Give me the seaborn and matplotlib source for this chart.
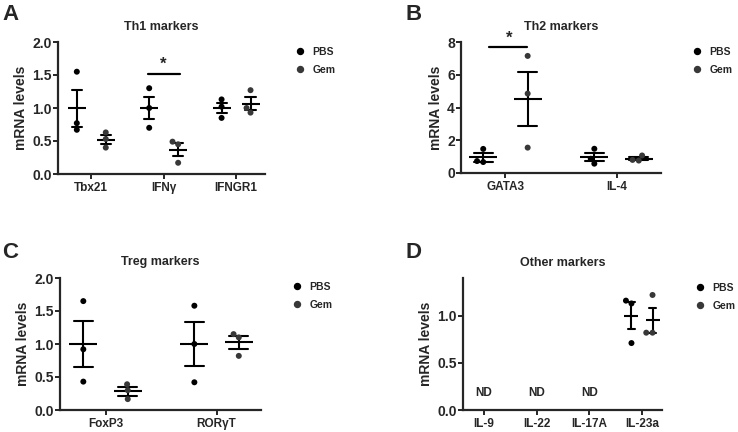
import numpy as np
import pandas as pd
import matplotlib
matplotlib.use("Agg")
import matplotlib.pyplot as plt
import seaborn as sns
from matplotlib.lines import Line2D

sns.set_style("ticks")
plt.rcParams["font.family"] = ["Liberation Sans", "DejaVu Sans"]
plt.rcParams["font.weight"] = "bold"
plt.rcParams["axes.labelweight"] = "bold"
plt.rcParams["axes.titleweight"] = "bold"

groups = ["PBS", "Gem"]
palette = {"PBS": "#000000", "Gem": "#383838"}

# Panel A: Th1 markers
a_genes = ["Tbx21", "IFNγ", "IFNGR1"]
a_pbs = [[1.55, 0.77, 0.67], [1.30, 1.00, 0.70], [1.13, 1.02, 0.85]]
a_gem = [[0.63, 0.53, 0.40], [0.49, 0.45, 0.17], [1.27, 1.00, 0.93]]

# Panel B: Th2 markers
b_genes = ["GATA3", "IL-4"]
b_pbs = [[1.47, 0.73, 0.67], [1.48, 0.87, 0.57]]
b_gem = [[7.15, 4.85, 1.55], [1.07, 0.80, 0.76]]

# Panel C: Treg markers
c_genes = ["FoxP3", "RORγT"]
c_pbs = [[1.65, 0.92, 0.43], [1.58, 1.00, 0.42]]
c_gem = [[0.39, 0.30, 0.165], [1.15, 1.10, 0.82]]

# Panel D: Other markers (only IL-23a detected)
d_genes = ["IL-9", "IL-22", "IL-17A", "IL-23a"]
d_measured = ["IL-23a"]
d_pbs = [[1.16, 1.13, 0.71]]
d_gem = [[1.22, 0.82, 0.82]]
d_nd = ["IL-9", "IL-22", "IL-17A"]


def to_long(genes, pbs, gem):
    rows = []
    for g, p, m in zip(genes, pbs, gem):
        rows += [(g, "PBS", v) for v in p]
        rows += [(g, "Gem", v) for v in m]
    return pd.DataFrame(rows, columns=["gene", "group", "value"])


fig = plt.figure(figsize=(7.38, 4.32), dpi=100)
W, H = 738, 432


def add_axes(l, r, t, b):
    return fig.add_axes([l / W, 1 - b / H, (r - l) / W, (b - t) / H])


def panel(ax, df, order, ylim, yticks, title, xlim, mean_ms, cap):
    sns.swarmplot(data=df, x="gene", y="value", hue="group", order=order,
                  hue_order=groups, palette=palette, dodge=True, size=4.3,
                  ax=ax, legend=False, zorder=3)
    sns.pointplot(data=df, x="gene", y="value", hue="group", order=order,
                  hue_order=groups, palette=["k", "k"], dodge=0.4,
                  errorbar="se", capsize=cap, marker="_", markersize=mean_ms,
                  markeredgewidth=1.5, linestyle="none",
                  err_kws={"linewidth": 1.5}, ax=ax, legend=False)
    ax.set_xlim(*xlim)
    ax.set_ylim(*ylim)
    ax.set_yticks(yticks)
    ax.set_xlabel("")
    ax.set_ylabel("mRNA levels", fontsize=10, labelpad=3)
    ax.set_title(title, fontsize=9, pad=9)
    for s in ["left", "bottom"]:
        ax.spines[s].set_linewidth(1.6)
    sns.despine(ax=ax)
    ax.tick_params(axis="y", labelsize=10, width=1.4, length=3.5, pad=1)
    ax.tick_params(axis="x", labelsize=8.5, width=1.4, length=3.5, pad=2)
    for lab in ax.get_xticklabels() + ax.get_yticklabels():
        lab.set_fontweight("bold")
    handles = [Line2D([], [], marker="o", ls="", color=palette[g], markersize=4.3)
               for g in groups]
    return handles


def add_legend(ax, handles, x, y):
    ax.legend(handles, groups, loc="upper left", bbox_to_anchor=(x / W, 1 - y / H),
              bbox_transform=fig.transFigure, frameon=False, fontsize=7.5,
              handlelength=0.8, handletextpad=0.8, labelspacing=0.75,
              borderpad=0, borderaxespad=0)


# A
axA = add_axes(58, 265, 42, 174)
dfA = to_long(a_genes, a_pbs, a_gem)
h = panel(axA, dfA, a_genes, (0, 2.0), [0, 0.5, 1.0, 1.5, 2.0], "Th1 markers",
          (-0.46, 2.4), 13, 0.14)
axA.set_yticklabels(["0.0", "0.5", "1.0", "1.5", "2.0"])
add_legend(axA, h, 296, 47)
axA.plot([0.79, 1.22], [1.52, 1.52], color="k", lw=1.6)
axA.text(1.0, 1.55, "*", ha="center", va="bottom", fontsize=12, fontweight="bold")

# B
axB = add_axes(461, 661, 42, 173)
dfB = to_long(b_genes, b_pbs, b_gem)
h = panel(axB, dfB, b_genes, (0, 8), [0, 2, 4, 6, 8], "Th2 markers",
          (-0.4, 1.4), 20, 0.17)
add_legend(axB, h, 693, 47)
axB.plot([-0.15, 0.19], [7.7, 7.7], color="k", lw=1.6, clip_on=False)
axB.text(0.03, 7.75, "*", ha="center", va="bottom", fontsize=12,
         fontweight="bold", clip_on=False)

# C
axC = add_axes(60, 261, 278, 410)
dfC = to_long(c_genes, c_pbs, c_gem)
h = panel(axC, dfC, c_genes, (0, 2.0), [0, 0.5, 1.0, 1.5, 2.0], "Treg markers",
          (-0.41, 1.4), 20, 0.17)
axC.set_yticklabels(["0.0", "0.5", "1.0", "1.5", "2.0"])
add_legend(axC, h, 293, 282)

# D
axD = add_axes(463, 662, 278, 410)
dfD = to_long(d_measured, d_pbs, d_gem)
h = panel(axD, dfD, d_genes, (0, 1.4), [0, 0.5, 1.0], "Other markers",
          (-0.4, 3.38), 9.5, 0.12)
axD.set_yticklabels(["0.0", "0.5", "1.0"])
add_legend(axD, h, 696, 283)
for g in d_nd:
    axD.text(d_genes.index(g), 0.18, "ND", ha="center", va="center",
             fontsize=8.5, fontweight="bold")

for letter, x, y in [("A", 2, 4), ("B", 405, 4), ("C", 2, 242), ("D", 405, 242)]:
    fig.text(x / W, 1 - y / H, letter, fontsize=16, fontweight="bold",
             ha="left", va="top")

fig.savefig("out.png", dpi=100)
